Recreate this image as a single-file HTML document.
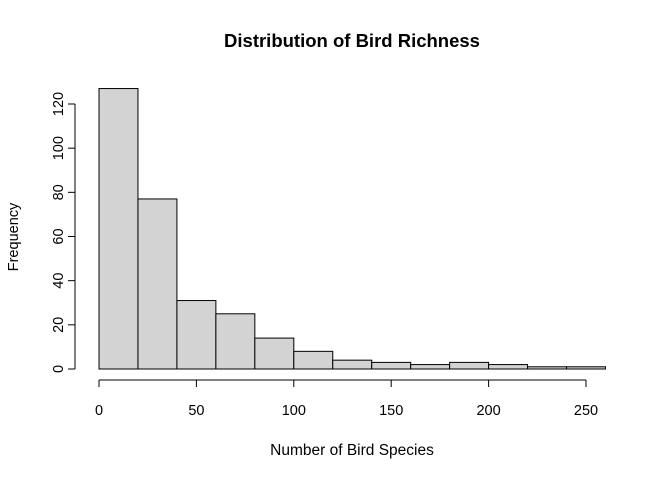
<!DOCTYPE html>
<html><head><meta charset="utf-8"><style>body{margin:0;background:#fff}text{font-family:"Liberation Sans",Arial,sans-serif}</style></head>
<body>
<svg id="chart" width="667" height="478" xmlns="http://www.w3.org/2000/svg">
<text x="352" y="47" text-anchor="middle" font-size="18.5" font-weight="bold">Distribution of Bird Richness</text>
<text x="352" y="455" text-anchor="middle" font-size="15.5">Number of Bird Species</text>
<text transform="translate(18,237) rotate(-90)" text-anchor="middle" font-size="14.5">Frequency</text>
<g id="bars"></g><g id="axes"></g>
</svg>
<script>
const binStarts=[0,20,40,60,80,100,120,140,160,180,200,220,240];
const binWidth=20;
const counts=[127,77,31,25,14,8,4,3,2,3,2,1,1];
const xTicks=[0,50,100,150,200,250];
const yTicks=[0,20,40,60,80,100,120];
const NS="http://www.w3.org/2000/svg";
const sx=v=>99+v*(586-99)/250;
const sy=v=>369-v*(369-104)/120;
function mk(t,a,p){const e=document.createElementNS(NS,t);for(const k in a)e.setAttribute(k,a[k]);p.appendChild(e);return e;}
const bars=document.getElementById('bars'),axes=document.getElementById('axes');
counts.forEach((c,i)=>{
 const r=mk('rect',{x:sx(binStarts[i]),y:sy(c),width:sx(binStarts[i]+binWidth)-sx(binStarts[i]),height:sy(0)-sy(c),fill:'#d3d3d3',stroke:'#000','stroke-width':1},bars);
 
 
});
const xa=mk('line',{x1:sx(xTicks[0]),x2:sx(xTicks[xTicks.length-1]),y1:380,y2:380,stroke:'#000'},axes);


xTicks.forEach(t=>{
 mk('line',{x1:sx(t),x2:sx(t),y1:380,y2:387,stroke:'#000'},axes);
 const l=mk('text',{x:sx(t),y:415,'text-anchor':'middle','font-size':14.5},axes);l.textContent=t;
 
 
});
const ya=mk('line',{x1:75,x2:75,y1:sy(yTicks[0]),y2:sy(yTicks[yTicks.length-1]),stroke:'#000'},axes);


yTicks.forEach(t=>{
 mk('line',{x1:68,x2:75,y1:sy(t),y2:sy(t),stroke:'#000'},axes);
 const l=mk('text',{transform:`translate(63,${sy(t)}) rotate(-90)`,'text-anchor':'middle','font-size':14.5},axes);l.textContent=t;
 
 
});
</script>
</body></html>
